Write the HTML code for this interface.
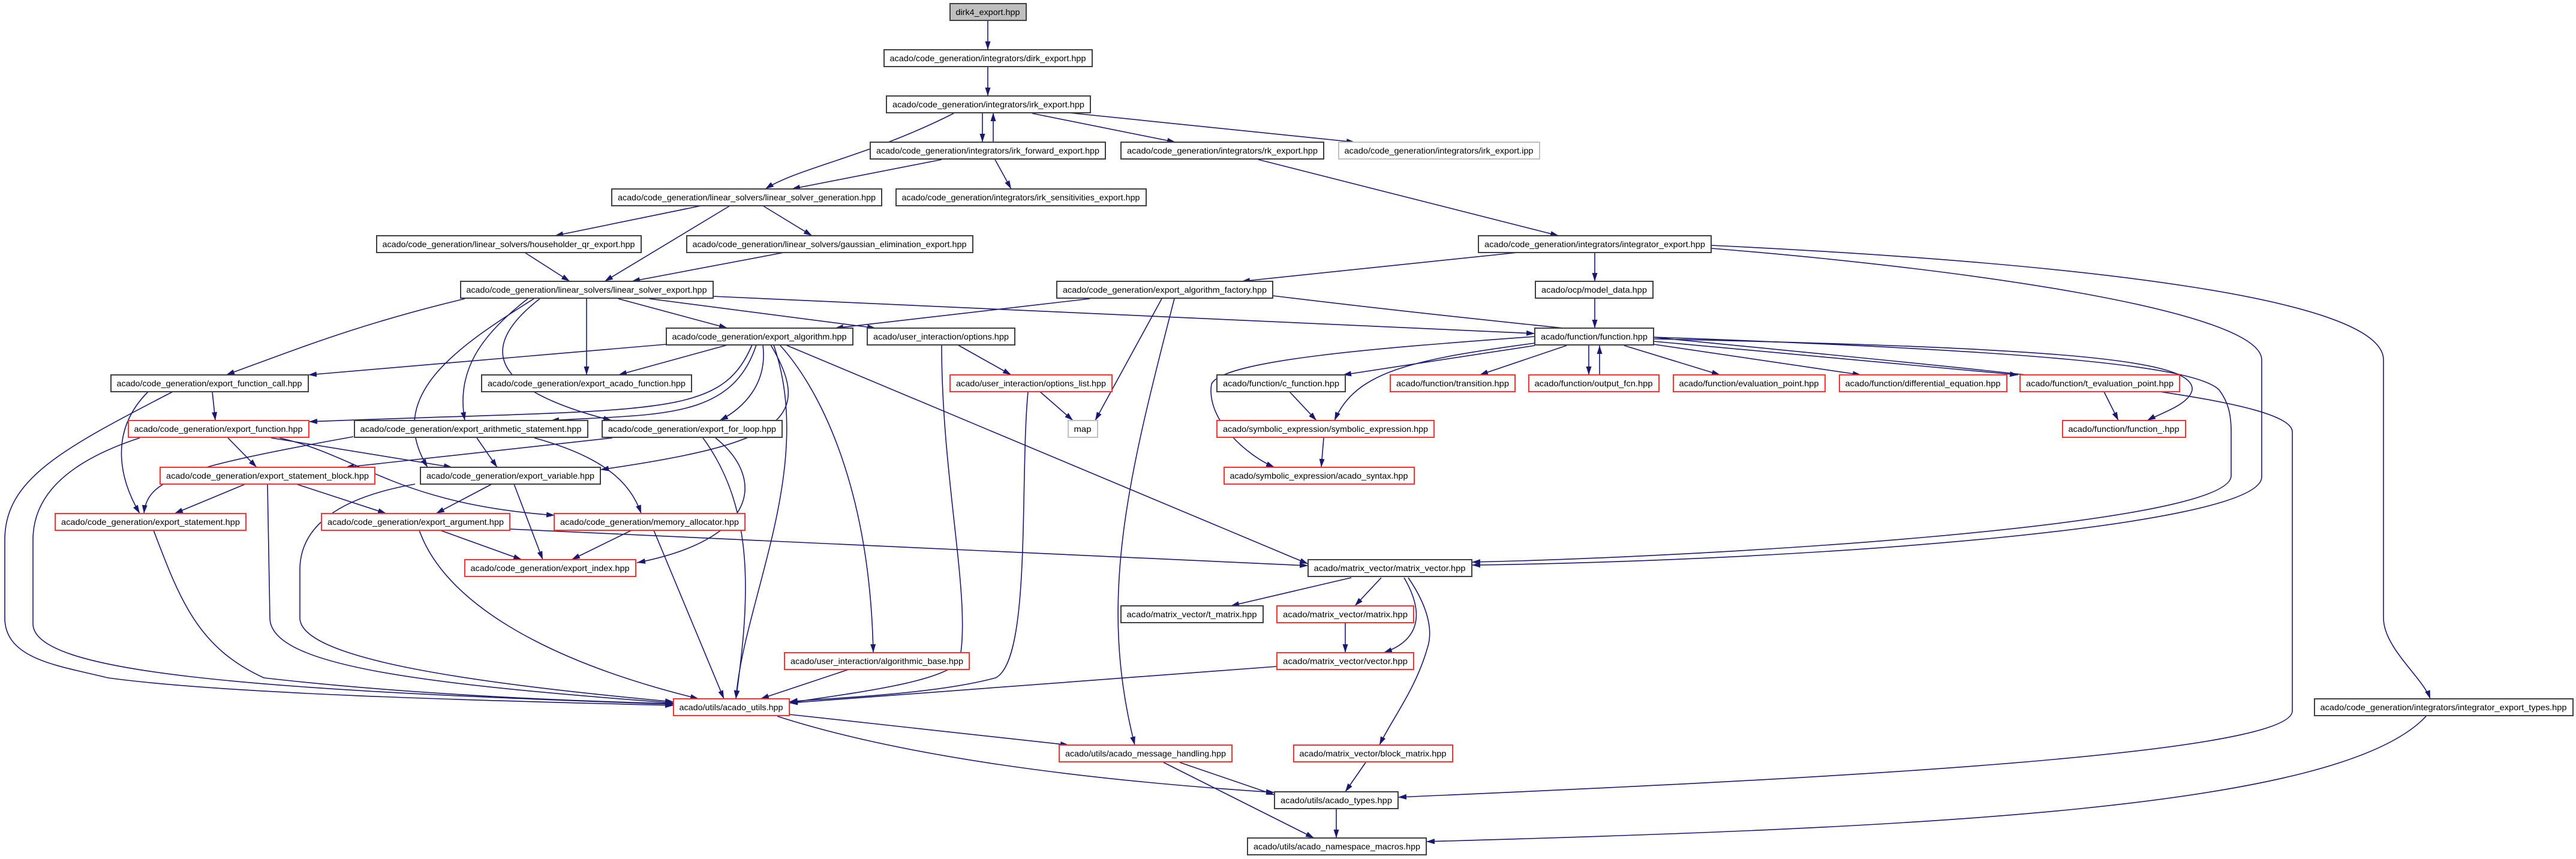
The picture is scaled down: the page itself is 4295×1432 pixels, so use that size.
<!DOCTYPE html>
<html><head><meta charset="utf-8"><style>
html,body{margin:0;padding:0;background:#fff;}
svg{display:block;}
text{font-family:"Liberation Sans",sans-serif;font-size:14px;fill:#000;text-anchor:middle;}
.n rect{fill:#fff;stroke:#404040;stroke-width:2;}
.r rect{fill:#fff;stroke:#ff3030;stroke-width:2;}
.g rect{fill:#fff;stroke:#c0c0c0;stroke-width:2;}
.e path{fill:none;stroke:#191970;stroke-width:1.6;marker-end:url(#a);}
</style></head><body>
<svg width="4295" height="1432" viewBox="0 0 4295 1432" xmlns="http://www.w3.org/2000/svg">
<defs><marker id="a" markerUnits="userSpaceOnUse" markerWidth="15" markerHeight="10" refX="14" refY="5" orient="auto"><path d="M0,0.5 L14,5 L0,9.5 z" fill="#191970"/></marker></defs>
<g class="e">
<path d="M1647,34 L1647,83"/>
<path d="M1647,111 L1647,160"/>
<path d="M1590,189 C1450,260 1330,280 1276,315"/>
<path d="M1638,188 L1638,237"/>
<path d="M1656,237 L1656,188"/>
<path d="M1721,189 L1960,237"/>
<path d="M1782,188 L2259,237"/>
<path d="M1570,266 L1320,315"/>
<path d="M1659,266 L1686,315"/>
<path d="M2098,266 L2599,393"/>
<path d="M1169,343 L925,393"/>
<path d="M1217,343 L1008,469"/>
<path d="M1272,343 L1354,393"/>
<path d="M875,421 L950,469"/>
<path d="M1307,421 L1053,469"/>
<path d="M2530,421 L2070,469"/>
<path d="M2659,421 L2659,469"/>
<path d="M2853,414 C3300,450 3771,520 3771,600 L3771,795 C3771,880 3000,935 2454,942"/>
<path d="M2853,409 C3500,440 3974,500 3974,600 L3974,1030 C3974,1080 4040,1130 4052,1165"/>
<path d="M2757,562 C3400,585 3660,610 3700,650 C3715,670 3720,690 3720,720 L3720,793 C3720,880 2800,930 2454,937"/>
<path d="M2122,493 C3000,600 3822,640 3822,720 L3822,1185 C3822,1260 3000,1300 2331,1329"/>
<path d="M1189,494 L2559,556"/>
<path d="M1031,498 L1213,547"/>
<path d="M1083,498 L1460,547"/>
<path d="M978,498 L978,625"/>
<path d="M775,498 C600,540 500,580 377,625"/>
<path d="M880,498 C800,560 760,620 775,701"/>
<path d="M900,498 C820,560 780,640 1020,701"/>
<path d="M890,498 C760,580 640,660 713,779"/>
<path d="M1817,498 L1392,547"/>
<path d="M1937,498 L1826,701"/>
<path d="M1958,498 C1880,800 1830,1000 1892,1242"/>
<path d="M2659,497 L2659,547"/>
<path d="M1111,574 L514,625"/>
<path d="M1213,575 L1031,625"/>
<path d="M1254,575 C1200,700 1100,680 515,703"/>
<path d="M1261,575 C1220,700 1100,690 918,701"/>
<path d="M1272,575 C1280,640 1240,680 1200,701"/>
<path d="M1285,575 C1360,700 1300,740 1001,783"/>
<path d="M1290,575 C1360,780 1240,1000 1227,1165"/>
<path d="M1300,575 C1360,640 1450,800 1456,1088"/>
<path d="M1310,575 L2181,940"/>
<path d="M1597,575 L1686,625"/>
<path d="M1570,575 C1570,800 1620,1000 1600,1100 C1580,1140 1380,1160 1316,1172"/>
<path d="M1734,653 L1789,701"/>
<path d="M1714,653 C1700,800 1720,1100 1660,1130 C1550,1160 1350,1165 1316,1170"/>
<path d="M2559,576 L2239,625"/>
<path d="M2612,576 L2467,625"/>
<path d="M2649,576 L2649,625"/>
<path d="M2667,625 L2667,576"/>
<path d="M2708,576 L2868,625"/>
<path d="M2757,574 L3103,625"/>
<path d="M2757,569 L3365,625"/>
<path d="M2757,565 C3450,580 3660,600 3655,650 C3650,675 3600,690 3580,701"/>
<path d="M2559,572 C2350,600 2260,620 2225,701"/>
<path d="M2559,561 C2300,580 2040,600 2020,640 C2010,700 2080,760 2125,779"/>
<path d="M2150,653 L2195,701"/>
<path d="M2207,730 L2203,779"/>
<path d="M3508,653 L3532,701"/>
<path d="M2253,963 L2052,1010"/>
<path d="M2303,963 L2259,1010"/>
<path d="M2341,963 C2380,1030 2360,1070 2307,1088"/>
<path d="M2348,963 C2380,1010 2390,1050 2380,1080 C2360,1150 2320,1200 2300,1242"/>
<path d="M2243,1039 L2243,1088"/>
<path d="M2129,1111 L1316,1172"/>
<path d="M2277,1271 L2243,1320"/>
<path d="M1316,1191 L1782,1242"/>
<path d="M1296,1194 C1500,1260 1800,1300 2125,1321"/>
<path d="M1967,1271 L2125,1325"/>
<path d="M1940,1271 L2191,1397"/>
<path d="M2228,1349 L2228,1397"/>
<path d="M4045,1194 C3900,1350 3200,1380 2378,1403"/>
<path d="M354,653 L359,701"/>
<path d="M247,653 C180,720 200,800 233,856"/>
<path d="M288,653 C100,750 8,800 8,900 L8,1030 C8,1100 100,1110 180,1130 C400,1160 900,1170 1123,1176"/>
<path d="M233,730 C80,780 55,850 55,900 L55,1040 C55,1120 400,1150 1123,1174"/>
<path d="M380,730 L428,779"/>
<path d="M452,730 L754,779"/>
<path d="M466,730 C600,760 660,840 925,859"/>
<path d="M589,728 C300,780 245,800 240,856"/>
<path d="M795,730 L829,779"/>
<path d="M891,730 C1000,760 1050,800 1069,856"/>
<path d="M1021,730 L576,779"/>
<path d="M1193,730 C1280,800 1260,900 1062,938"/>
<path d="M1172,730 C1260,850 1250,1000 1227,1165"/>
<path d="M409,807 L291,856"/>
<path d="M494,807 L644,856"/>
<path d="M446,807 L450,1030 C450,1110 700,1140 1123,1172"/>
<path d="M820,807 L727,856"/>
<path d="M857,807 L905,933"/>
<path d="M692,807 C560,830 500,880 500,950 L500,1030 C500,1100 800,1140 1123,1170"/>
<path d="M256,884 C300,1000 330,1080 440,1130 C700,1160 1000,1170 1123,1173"/>
<path d="M734,884 L870,933"/>
<path d="M699,884 C740,1000 900,1100 1165,1165"/>
<path d="M850,882 L2181,943"/>
<path d="M1053,884 L953,933"/>
<path d="M1090,884 L1207,1165"/>
<path d="M1415,1116 L1268,1165"/>
</g>
<g class="g"><rect x="1584" y="6" width="127" height="28" style="fill:#bfbfbf;stroke:#404040"/><text x="1647" y="25" textLength="107" lengthAdjust="spacingAndGlyphs">dirk4_export.hpp</text></g>
<g class="n"><rect x="1474" y="83" width="347" height="28"/><text x="1647" y="102" textLength="327" lengthAdjust="spacingAndGlyphs">acado/code_generation/integrators/dirk_export.hpp</text></g>
<g class="n"><rect x="1478" y="160" width="340" height="28"/><text x="1648" y="179" textLength="320" lengthAdjust="spacingAndGlyphs">acado/code_generation/integrators/irk_export.hpp</text></g>
<g class="n"><rect x="1451" y="237" width="392" height="28"/><text x="1647" y="256" textLength="372" lengthAdjust="spacingAndGlyphs">acado/code_generation/integrators/irk_forward_export.hpp</text></g>
<g class="n"><rect x="1869" y="237" width="338" height="28"/><text x="2038" y="256" textLength="318" lengthAdjust="spacingAndGlyphs">acado/code_generation/integrators/rk_export.hpp</text></g>
<g class="g"><rect x="2232" y="237" width="335" height="28"/><text x="2399" y="256" textLength="315" lengthAdjust="spacingAndGlyphs">acado/code_generation/integrators/irk_export.ipp</text></g>
<g class="n"><rect x="1020" y="315" width="450" height="28"/><text x="1245" y="334" textLength="430" lengthAdjust="spacingAndGlyphs">acado/code_generation/linear_solvers/linear_solver_generation.hpp</text></g>
<g class="n"><rect x="1494" y="315" width="417" height="28"/><text x="1702" y="334" textLength="397" lengthAdjust="spacingAndGlyphs">acado/code_generation/integrators/irk_sensitivities_export.hpp</text></g>
<g class="n"><rect x="628" y="393" width="441" height="28"/><text x="848" y="412" textLength="421" lengthAdjust="spacingAndGlyphs">acado/code_generation/linear_solvers/householder_qr_export.hpp</text></g>
<g class="n"><rect x="1145" y="393" width="477" height="28"/><text x="1383" y="412" textLength="457" lengthAdjust="spacingAndGlyphs">acado/code_generation/linear_solvers/gaussian_elimination_export.hpp</text></g>
<g class="n"><rect x="768" y="469" width="421" height="28"/><text x="978" y="488" textLength="401" lengthAdjust="spacingAndGlyphs">acado/code_generation/linear_solvers/linear_solver_export.hpp</text></g>
<g class="n"><rect x="1762" y="469" width="360" height="28"/><text x="1942" y="488" textLength="340" lengthAdjust="spacingAndGlyphs">acado/code_generation/export_algorithm_factory.hpp</text></g>
<g class="n"><rect x="2465" y="393" width="388" height="28"/><text x="2659" y="412" textLength="368" lengthAdjust="spacingAndGlyphs">acado/code_generation/integrators/integrator_export.hpp</text></g>
<g class="n"><rect x="2560" y="469" width="196" height="28"/><text x="2658" y="488" textLength="176" lengthAdjust="spacingAndGlyphs">acado/ocp/model_data.hpp</text></g>
<g class="n"><rect x="1111" y="547" width="311" height="28"/><text x="1266" y="566" textLength="291" lengthAdjust="spacingAndGlyphs">acado/code_generation/export_algorithm.hpp</text></g>
<g class="n"><rect x="1446" y="547" width="246" height="28"/><text x="1569" y="566" textLength="226" lengthAdjust="spacingAndGlyphs">acado/user_interaction/options.hpp</text></g>
<g class="n"><rect x="2559" y="547" width="198" height="28"/><text x="2658" y="566" textLength="178" lengthAdjust="spacingAndGlyphs">acado/function/function.hpp</text></g>
<g class="n"><rect x="185" y="625" width="329" height="28"/><text x="349" y="644" textLength="309" lengthAdjust="spacingAndGlyphs">acado/code_generation/export_function_call.hpp</text></g>
<g class="n"><rect x="803" y="625" width="350" height="28"/><text x="978" y="644" textLength="330" lengthAdjust="spacingAndGlyphs">acado/code_generation/export_acado_function.hpp</text></g>
<g class="r"><rect x="1584" y="625" width="270" height="28"/><text x="1719" y="644" textLength="250" lengthAdjust="spacingAndGlyphs">acado/user_interaction/options_list.hpp</text></g>
<g class="n"><rect x="2029" y="625" width="214" height="28"/><text x="2136" y="644" textLength="194" lengthAdjust="spacingAndGlyphs">acado/function/c_function.hpp</text></g>
<g class="r"><rect x="2318" y="625" width="208" height="28"/><text x="2422" y="644" textLength="188" lengthAdjust="spacingAndGlyphs">acado/function/transition.hpp</text></g>
<g class="r"><rect x="2549" y="625" width="217" height="28"/><text x="2657" y="644" textLength="197" lengthAdjust="spacingAndGlyphs">acado/function/output_fcn.hpp</text></g>
<g class="r"><rect x="2790" y="625" width="253" height="28"/><text x="2916" y="644" textLength="233" lengthAdjust="spacingAndGlyphs">acado/function/evaluation_point.hpp</text></g>
<g class="r"><rect x="3067" y="625" width="279" height="28"/><text x="3206" y="644" textLength="259" lengthAdjust="spacingAndGlyphs">acado/function/differential_equation.hpp</text></g>
<g class="r"><rect x="3368" y="625" width="266" height="28"/><text x="3501" y="644" textLength="246" lengthAdjust="spacingAndGlyphs">acado/function/t_evaluation_point.hpp</text></g>
<g class="r"><rect x="214" y="701" width="301" height="28"/><text x="364" y="720" textLength="281" lengthAdjust="spacingAndGlyphs">acado/code_generation/export_function.hpp</text></g>
<g class="n"><rect x="591" y="701" width="389" height="28"/><text x="785" y="720" textLength="369" lengthAdjust="spacingAndGlyphs">acado/code_generation/export_arithmetic_statement.hpp</text></g>
<g class="n"><rect x="1004" y="701" width="300" height="28"/><text x="1154" y="720" textLength="280" lengthAdjust="spacingAndGlyphs">acado/code_generation/export_for_loop.hpp</text></g>
<g class="g"><rect x="1781" y="701" width="49" height="28"/><text x="1805" y="720" textLength="29" lengthAdjust="spacingAndGlyphs">map</text></g>
<g class="r"><rect x="2029" y="701" width="362" height="28"/><text x="2210" y="720" textLength="342" lengthAdjust="spacingAndGlyphs">acado/symbolic_expression/symbolic_expression.hpp</text></g>
<g class="r"><rect x="3439" y="701" width="205" height="28"/><text x="3541" y="720" textLength="185" lengthAdjust="spacingAndGlyphs">acado/function/function_.hpp</text></g>
<g class="r"><rect x="267" y="779" width="358" height="28"/><text x="446" y="798" textLength="338" lengthAdjust="spacingAndGlyphs">acado/code_generation/export_statement_block.hpp</text></g>
<g class="n"><rect x="701" y="779" width="300" height="28"/><text x="851" y="798" textLength="280" lengthAdjust="spacingAndGlyphs">acado/code_generation/export_variable.hpp</text></g>
<g class="r"><rect x="2041" y="779" width="317" height="28"/><text x="2199" y="798" textLength="297" lengthAdjust="spacingAndGlyphs">acado/symbolic_expression/acado_syntax.hpp</text></g>
<g class="r"><rect x="92" y="856" width="318" height="28"/><text x="251" y="875" textLength="298" lengthAdjust="spacingAndGlyphs">acado/code_generation/export_statement.hpp</text></g>
<g class="r"><rect x="536" y="856" width="314" height="28"/><text x="693" y="875" textLength="294" lengthAdjust="spacingAndGlyphs">acado/code_generation/export_argument.hpp</text></g>
<g class="r"><rect x="924" y="856" width="318" height="28"/><text x="1083" y="875" textLength="298" lengthAdjust="spacingAndGlyphs">acado/code_generation/memory_allocator.hpp</text></g>
<g class="n"><rect x="2181" y="933" width="273" height="28"/><text x="2317" y="952" textLength="253" lengthAdjust="spacingAndGlyphs">acado/matrix_vector/matrix_vector.hpp</text></g>
<g class="r"><rect x="775" y="933" width="285" height="28"/><text x="917" y="952" textLength="265" lengthAdjust="spacingAndGlyphs">acado/code_generation/export_index.hpp</text></g>
<g class="n"><rect x="1869" y="1010" width="237" height="28"/><text x="1987" y="1029" textLength="217" lengthAdjust="spacingAndGlyphs">acado/matrix_vector/t_matrix.hpp</text></g>
<g class="r"><rect x="2129" y="1010" width="228" height="28"/><text x="2243" y="1029" textLength="208" lengthAdjust="spacingAndGlyphs">acado/matrix_vector/matrix.hpp</text></g>
<g class="r"><rect x="1308" y="1088" width="308" height="28"/><text x="1462" y="1107" textLength="288" lengthAdjust="spacingAndGlyphs">acado/user_interaction/algorithmic_base.hpp</text></g>
<g class="r"><rect x="2129" y="1088" width="228" height="28"/><text x="2243" y="1107" textLength="208" lengthAdjust="spacingAndGlyphs">acado/matrix_vector/vector.hpp</text></g>
<g class="r"><rect x="1123" y="1165" width="193" height="28"/><text x="1219" y="1184" textLength="173" lengthAdjust="spacingAndGlyphs">acado/utils/acado_utils.hpp</text></g>
<g class="n"><rect x="3859" y="1165" width="431" height="28"/><text x="4074" y="1184" textLength="411" lengthAdjust="spacingAndGlyphs">acado/code_generation/integrators/integrator_export_types.hpp</text></g>
<g class="r"><rect x="1766" y="1242" width="288" height="28"/><text x="1910" y="1261" textLength="268" lengthAdjust="spacingAndGlyphs">acado/utils/acado_message_handling.hpp</text></g>
<g class="r"><rect x="2157" y="1242" width="265" height="28"/><text x="2289" y="1261" textLength="245" lengthAdjust="spacingAndGlyphs">acado/matrix_vector/block_matrix.hpp</text></g>
<g class="n"><rect x="2125" y="1320" width="206" height="28"/><text x="2228" y="1339" textLength="186" lengthAdjust="spacingAndGlyphs">acado/utils/acado_types.hpp</text></g>
<g class="n"><rect x="2080" y="1397" width="298" height="28"/><text x="2229" y="1416" textLength="278" lengthAdjust="spacingAndGlyphs">acado/utils/acado_namespace_macros.hpp</text></g>
</svg>
</body></html>
